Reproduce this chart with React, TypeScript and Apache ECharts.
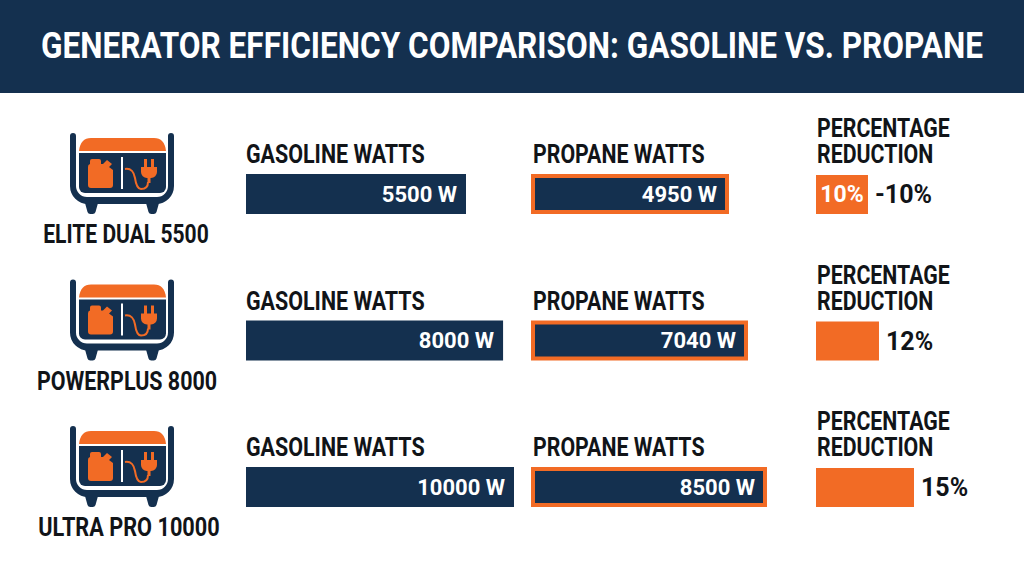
import React, { useEffect, useRef } from "react";
import * as echarts from "echarts";

const titleText = "GENERATOR EFFICIENCY COMPARISON: GASOLINE VS. PROPANE";
const models = ["ELITE DUAL 5500", "POWERPLUS 8000", "ULTRA PRO 10000"];
const gasolineWatts = [5500, 8000, 10000];
const propaneWatts = [4950, 7040, 8500];
const reductionPct = [10, 12, 15];
const reductionInside = ["10%", "", ""];
const reductionOutside = ["-10%", "12%", "15%"];
// the picture's bars are not on one common scale: each row has its own axis end
const gasolineAxisMax = [6700, 8340, 10000];
const propaneAxisMax = [5900, 7656, 8500];
const reductionAxisMax = [18.85, 18.67, 15];

const NAVY = "#14304f";
const ORANGE = "#f26b25";
const INK = "#111418";
const FONT = "Roboto";

const FRAME = "M3 0 a3 3 0 0 1 3 3 V53 a11 11 0 0 0 11 11 H87 a11 11 0 0 0 11 -11 V3 a3 3 0 0 1 6 0 V53 a18 18 0 0 1 -18 18 H18 a18 18 0 0 1 -18 -18 V3 a3 3 0 0 1 3 -3 Z";
const FOOT = "M0 0 H13 L10.5 9 a3 3 0 0 1 -3 2 H5.5 a3 3 0 0 1 -3 -2 Z";
const CANOPY = "M0 13 C1 4 5 0 12 0 H75 C82 0 86 4 87 13 Z";
const CAN = "M0 8 a3 3 0 0 1 2 -3 V2 a2 2 0 0 1 2 -2 H11 a2 2 0 0 1 2 2 V5 H15 L19 1 L24 5 L21 8 L25 11 V26 a3 3 0 0 1 -3 3 H3 a3 3 0 0 1 -3 -3 Z";
const PLUG = "M3 0 h3 v8 h-3 Z M10 0 h3 v8 h-3 Z M0 8 H16 V13 a6 6 0 0 1 -6 6 H9.5 V24 H6.5 V19 H6 a6 6 0 0 1 -6 -6 Z";
const CORD = "M0 0 C6 -1 9 3 10 9 C11 16 13 20 16 20 C21 20 23 17 23 13";

echarts.graphic.registerShape("genFrame", echarts.graphic.extendPath(FRAME, {}));
echarts.graphic.registerShape("genFoot", echarts.graphic.extendPath(FOOT, {}));
echarts.graphic.registerShape("genCanopy", echarts.graphic.extendPath(CANOPY, {}));
echarts.graphic.registerShape("genCan", echarts.graphic.extendPath(CAN, {}));
echarts.graphic.registerShape("genPlug", echarts.graphic.extendPath(PLUG, {}));
echarts.graphic.registerShape("genCord", echarts.graphic.extendPath(CORD, {}));

const rowY = [0, 146.5, 293];
const textRowY = [0, 147, 293];
const modelX = [126, 127, 129];
const modelScale = [0.81, 0.825, 0.835];

function icon(y: number) {
  return {
    type: "group",
    x: 70,
    y: 133 + y,
    silent: true,
    children: [
      { type: "genFoot", x: 15, y: 70, style: { fill: NAVY } },
      { type: "genFoot", x: 76, y: 70, style: { fill: NAVY } },
      { type: "genFrame", x: 0, y: 0, style: { fill: NAVY } },
      { type: "genCanopy", x: 9, y: 5, style: { fill: ORANGE } },
      { type: "rect", shape: { x: 9, y: 20, width: 87, height: 40, r: [0, 0, 6, 6] }, style: { fill: NAVY } },
      { type: "rect", shape: { x: 51, y: 24, width: 2, height: 32 }, style: { fill: "#ffffff" } },
      { type: "genCan", x: 18, y: 26, style: { fill: ORANGE } },
      { type: "genCord", x: 55, y: 36, style: { fill: "none", stroke: ORANGE, lineWidth: 2 } },
      { type: "genPlug", x: 71, y: 26, style: { fill: ORANGE } },
    ],
  };
}

function label(text: string, x: number, y: number, size: number, scaleX: number, align = "left", fill = INK) {
  return {
    type: "text",
    x,
    y,
    scaleX,
    silent: true,
    style: { text, fill, font: `700 ${size}px ${FONT}`, align, verticalAlign: "middle" },
  };
}

export default function App() {
  const ref = useRef<HTMLDivElement>(null);
  useEffect(() => {
    document.body.style.margin = "0";
    const chart = echarts.init(ref.current!, undefined, { renderer: "svg" });

    const grids: any[] = [];
    const xAxes: any[] = [];
    const yAxes: any[] = [];
    const series: any[] = [];

    const addCell = (left: number, top: number, width: number, height: number, max: number, name: string) => {
      const i = grids.length;
      grids.push({ left, top, width, height, containLabel: false });
      xAxes.push({ type: "value", gridIndex: i, min: 0, max, show: false });
      yAxes.push({ type: "category", gridIndex: i, data: [name], show: false });
      return i;
    };

    const valueLabel = {
      show: true,
      position: "insideRight",
      distance: 9,
      color: "#ffffff",
      fontFamily: FONT,
      fontWeight: 700,
      fontSize: 22,
      formatter: "{c} W",
    };

    models.forEach((m, r) => {
      const y = rowY[r];
      const g = addCell(246, 174 + y, 268, 40, gasolineAxisMax[r], m);
      series.push({
        type: "bar", name: "Gasoline watts", xAxisIndex: g, yAxisIndex: g, barWidth: "100%",
        data: [gasolineWatts[r]], itemStyle: { color: NAVY }, label: valueLabel,
      });
      const p = addCell(531, 174 + y, 236, 40, propaneAxisMax[r], m);
      series.push({
        type: "bar", name: "Propane watts", xAxisIndex: p, yAxisIndex: p, barWidth: "100%",
        data: [propaneWatts[r]],
        itemStyle: { color: NAVY, borderColor: ORANGE, borderWidth: 4 },
        label: { ...valueLabel, distance: 12 },
      });
      const q = addCell(816, 175 + y, 98, 39, reductionAxisMax[r], m);
      series.push({
        type: "bar", name: "Reduction", xAxisIndex: q, yAxisIndex: q, barWidth: "100%", barGap: "-100%",
        data: [reductionPct[r]], itemStyle: { color: ORANGE },
        label: {
          show: true, position: "right", distance: 7, color: INK, fontFamily: FONT, fontWeight: 700, fontSize: 25,
          formatter: () => reductionOutside[r],
        },
      });
      series.push({
        type: "bar", name: "Reduction inside", xAxisIndex: q, yAxisIndex: q, barWidth: "100%", barGap: "-100%",
        data: [reductionPct[r]], itemStyle: { color: "transparent" },
        label: {
          show: reductionInside[r] !== "", position: "inside", color: "#ffffff", fontFamily: FONT, fontWeight: 700, fontSize: 23,
          formatter: () => reductionInside[r],
        },
      });
    });

    const graphic: any[] = [
      { type: "rect", silent: true, z: -1, shape: { x: 0, y: 0, width: 1024, height: 93 }, style: { fill: NAVY } },
      label(titleText, 512, 45.5, 37, 0.853, "center", "#ffffff"),
    ];
    models.forEach((m, r) => {
      const y = textRowY[r];
      graphic.push(icon(rowY[r]));
      graphic.push(label(m, modelX[r], 234 + y, 26, modelScale[r], "center"));
      graphic.push(label("GASOLINE WATTS", 246, 154 + y, 26, 0.825));
      graphic.push(label("PROPANE WATTS", 533, 154 + y, 26, 0.82));
      graphic.push(label("PERCENTAGE", 817, 128 + y, 26, 0.82));
      graphic.push(label("REDUCTION", 817, 154 + y, 26, 0.82));
    });

    chart.setOption({
      animation: false,
      backgroundColor: "#ffffff",
      tooltip: { show: false },
      grid: grids,
      xAxis: xAxes,
      yAxis: yAxes,
      series,
      graphic,
    });
    return () => chart.dispose();
  }, []);
  return <div ref={ref} style={{ width: 1024, height: 571 }} />;
}
